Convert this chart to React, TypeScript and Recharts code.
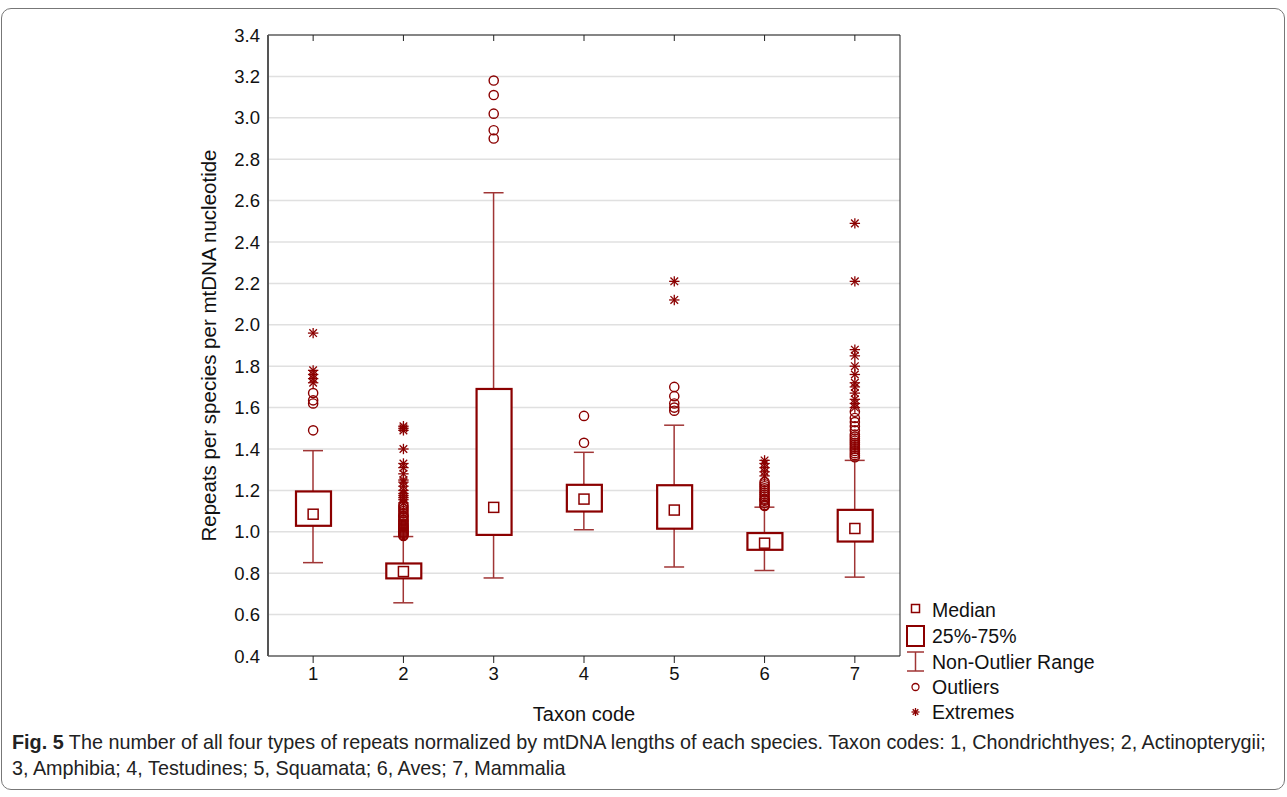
import { ComposedChart, Bar, Scatter, XAxis, YAxis, CartesianGrid, Label } from 'recharts'

// five-number summaries per taxon code
const taxa = [1, 2, 3, 4, 5, 6, 7]
const whiskerLow = [0.851, 0.657, 0.777, 1.01, 0.83, 0.813, 0.781]
const q1 = [1.029, 0.775, 0.985, 1.098, 1.015, 0.913, 0.953]
const medians = [1.085, 0.808, 1.118, 1.158, 1.105, 0.945, 1.016]
const q3 = [1.195, 0.847, 1.69, 1.227, 1.225, 0.994, 1.106]
const whiskerHigh = [1.392, 0.977, 2.638, 1.384, 1.515, 1.119, 1.345]

const outliers: number[][] = [
  [1.49, 1.62, 1.635, 1.67],
  [0.98, 0.985, 0.99, 0.995, 1.0, 1.005, 1.01, 1.015, 1.02, 1.025, 1.03, 1.035, 1.04, 1.05, 1.055, 1.06, 1.07, 1.075, 1.08, 1.09, 1.1, 1.11, 1.12, 1.13],
  [2.9, 2.94, 3.02, 3.11, 3.18],
  [1.43, 1.56],
  [1.585, 1.6, 1.62, 1.655, 1.7],
  [1.125, 1.13, 1.14, 1.15, 1.155, 1.16, 1.17, 1.18, 1.19, 1.2, 1.21, 1.22, 1.23, 1.24],
  [1.36, 1.37, 1.38, 1.39, 1.4, 1.41, 1.42, 1.43, 1.44, 1.45, 1.46, 1.47, 1.49, 1.51, 1.53, 1.55, 1.58],
]
const extremes: number[][] = [
  [1.72, 1.74, 1.76, 1.78, 1.96],
  [1.14, 1.155, 1.165, 1.175, 1.185, 1.2, 1.22, 1.24, 1.25, 1.28, 1.31, 1.33, 1.4, 1.49, 1.5, 1.51],
  [],
  [],
  [2.12, 2.21],
  [1.27, 1.29, 1.31, 1.33, 1.345],
  [1.6, 1.62, 1.64, 1.67, 1.7, 1.72, 1.76, 1.8, 1.85, 1.88, 2.21, 2.49],
]

const yTicks = [0.4, 0.6, 0.8, 1.0, 1.2, 1.4, 1.6, 1.8, 2.0, 2.2, 2.4, 2.6, 2.8, 3.0, 3.2, 3.4]

const boxes = taxa.map((x, i) => ({
  x,
  low: whiskerLow[i],
  q1: q1[i],
  med: medians[i],
  q3: q3[i],
  high: whiskerHigh[i],
}))
const outlierPts = taxa.flatMap((x, i) => outliers[i].map((y) => ({ x, y })))
const extremePts = taxa.flatMap((x, i) => extremes[i].map((y) => ({ x, y })))

const RED = '#8b0000'
const WHISKER = '#a03535'
const FONT = "'Liberation Sans', Arial, Helvetica, sans-serif"

const WhiskerShape = (p: any) => {
  const { x, y, width, height } = p
  const top = Math.min(y, y + height)
  const bot = Math.max(y, y + height)
  const cx = x + width / 2
  return (
    <g stroke={WHISKER} strokeWidth={1.5}>
      <line x1={cx} x2={cx} y1={top} y2={bot} />
      <line x1={x} x2={x + width} y1={top} y2={top} />
      <line x1={x} x2={x + width} y1={bot} y2={bot} />
    </g>
  )
}

const BoxShape = (p: any) => {
  const { x, y, width, height } = p
  return (
    <rect
      x={x}
      y={Math.min(y, y + height)}
      width={width}
      height={Math.abs(height)}
      fill="#fff"
      stroke={RED}
      strokeWidth={2.2}
    />
  )
}

const MedianShape = ({ cx, cy }: any) => (
  <rect x={cx - 5} y={cy - 5} width={10} height={10} fill="#fff" stroke={RED} strokeWidth={1.5} />
)

const Ring = ({ cx, cy }: any) => (
  <circle cx={cx} cy={cy} r={4.6} fill="none" stroke={RED} strokeWidth={1.4} />
)

const Star = ({ cx, cy }: any) => {
  const r = 5.2
  const d = 3.8
  return (
    <g stroke={RED} strokeWidth={1.3}>
      <line x1={cx - r} x2={cx + r} y1={cy} y2={cy} />
      <line x1={cx} x2={cx} y1={cy - r} y2={cy + r} />
      <line x1={cx - d} x2={cx + d} y1={cy - d} y2={cy + d} />
      <line x1={cx - d} x2={cx + d} y1={cy + d} y2={cy - d} />
    </g>
  )
}

function LegendBox() {
  const items = ['Median', '25%-75%', 'Non-Outlier Range', 'Outliers', 'Extremes']
  const ys = [12, 38, 64, 89, 114]
  return (
    <svg width={240} height={128} style={{ position: 'absolute', left: 900, top: 598 }}>
      <rect x={11.5} y={ys[0] - 5.5} width={8} height={8} fill="#fff" stroke={RED} strokeWidth={1.5} />
      <rect x={7} y={ys[1] - 10} width={17} height={20} fill="#fff" stroke={RED} strokeWidth={2} />
      <g stroke={WHISKER} strokeWidth={1.5}>
        <line x1={15.5} x2={15.5} y1={ys[2] - 10} y2={ys[2] + 9} />
        <line x1={7} x2={24} y1={ys[2] - 10} y2={ys[2] - 10} />
        <line x1={7} x2={24} y1={ys[2] + 9} y2={ys[2] + 9} />
      </g>
      <circle cx={15.5} cy={ys[3]} r={3.5} fill="none" stroke={RED} strokeWidth={1.3} />
      <g stroke={RED} strokeWidth={1.3}>
        <line x1={11.5} x2={19.5} y1={ys[4]} y2={ys[4]} />
        <line x1={15.5} x2={15.5} y1={ys[4] - 4} y2={ys[4] + 4} />
        <line x1={12.7} x2={18.3} y1={ys[4] - 2.8} y2={ys[4] + 2.8} />
        <line x1={12.7} x2={18.3} y1={ys[4] + 2.8} y2={ys[4] - 2.8} />
      </g>
      {items.map((t, i) => (
        <text key={t} x={32} y={ys[i] + 7} fontSize={19.5} fontFamily={FONT} fill="#111">
          {t}
        </text>
      ))}
    </svg>
  )
}

export default function App() {
  return (
    <div style={{ position: 'absolute', left: 0, top: 0, width: 1287, height: 797, background: '#fff' }}>
      <div
        style={{
          position: 'absolute',
          left: 1,
          top: 8,
          width: 1282,
          height: 780,
          border: '1px solid #777',
          borderRadius: 10,
        }}
      />
      <div style={{ position: 'absolute', left: 0, top: 0 }}>
        <ComposedChart
          width={1287}
          height={797}
          data={boxes}
          margin={{ top: 35, right: 387, bottom: 71, left: 188 }}
        >
          <CartesianGrid xAxisId="bottom" yAxisId="left" vertical={false} stroke="#e0e0e0" strokeWidth={1.5} />
          <XAxis
            xAxisId="bottom"
            dataKey="x"
            type="number"
            domain={[0.5, 7.5]}
            ticks={taxa}
            interval={0}
            height={70}
            tickSize={7}
            tickMargin={4}
            axisLine={{ stroke: '#222', strokeWidth: 1.2 }}
            tickLine={{ stroke: '#222' }}
            tick={{ fill: '#111', fontSize: 18.5, fontFamily: FONT }}
          >
            <Label value="Taxon code" position="insideBottom" offset={5} fill="#111" fontSize={20} fontFamily={FONT} />
          </XAxis>
          <XAxis
            xAxisId="top"
            orientation="top"
            dataKey="x"
            type="number"
            domain={[0.5, 7.5]}
            ticks={taxa}
            interval={0}
            mirror
            tickSize={6}
            tickFormatter={() => ''}
            axisLine={{ stroke: '#222' }}
            tickLine={{ stroke: '#222' }}
          />
          <YAxis
            yAxisId="left"
            type="number"
            domain={[0.4, 3.4]}
            ticks={yTicks}
            interval={0}
            width={80}
            tickLine={false}
            tickSize={5}
            tickMargin={3}
            tickFormatter={(v: number) => v.toFixed(1)}
            axisLine={{ stroke: '#555', strokeWidth: 2 }}
            tick={{ fill: '#111', fontSize: 18.5, fontFamily: FONT }}
          >
            <Label
              value="Repeats per species per mtDNA nucleotide"
              angle={-90}
              position="insideLeft"
              offset={21}
              fill="#111"
              fontSize={20.5}
              fontFamily={FONT}
              style={{ textAnchor: 'middle' }}
            />
          </YAxis>
          <YAxis
            yAxisId="right"
            orientation="right"
            type="number"
            domain={[0.4, 3.4]}
            ticks={yTicks}
            interval={0}
            mirror
            tickSize={6}
            tickFormatter={() => ''}
            axisLine={{ stroke: '#222' }}
            tickLine={{ stroke: '#222' }}
          />
          <Bar
            xAxisId="top"
            yAxisId="left"
            dataKey={(d: any) => [d.low, d.high]}
            barSize={20}
            shape={WhiskerShape}
            isAnimationActive={false}
          />
          <Bar
            xAxisId="bottom"
            yAxisId="left"
            dataKey={(d: any) => [d.q1, d.q3]}
            barSize={35}
            shape={BoxShape}
            isAnimationActive={false}
          />
          <Scatter
            xAxisId="bottom"
            yAxisId="left"
            data={boxes}
            dataKey="med"
            shape={MedianShape}
            isAnimationActive={false}
          />
          <Scatter
            xAxisId="bottom"
            yAxisId="left"
            data={outlierPts}
            dataKey="y"
            shape={Ring}
            isAnimationActive={false}
          />
          <Scatter
            xAxisId="bottom"
            yAxisId="left"
            data={extremePts}
            dataKey="y"
            shape={Star}
            isAnimationActive={false}
          />
        </ComposedChart>
      </div>
      <LegendBox />
      <div
        style={{
          position: 'absolute',
          left: 12,
          top: 729,
          fontFamily: FONT,
          fontSize: 19.8,
          lineHeight: '26px',
          color: '#222',
          whiteSpace: 'nowrap',
        }}
      >
        <div>
          <b>Fig. 5</b> The number of all four types of repeats normalized by mtDNA lengths of each species. Taxon codes: 1, Chondrichthyes; 2, Actinopterygii;
        </div>
        <div>3, Amphibia; 4, Testudines; 5, Squamata; 6, Aves; 7, Mammalia</div>
      </div>
    </div>
  )
}
